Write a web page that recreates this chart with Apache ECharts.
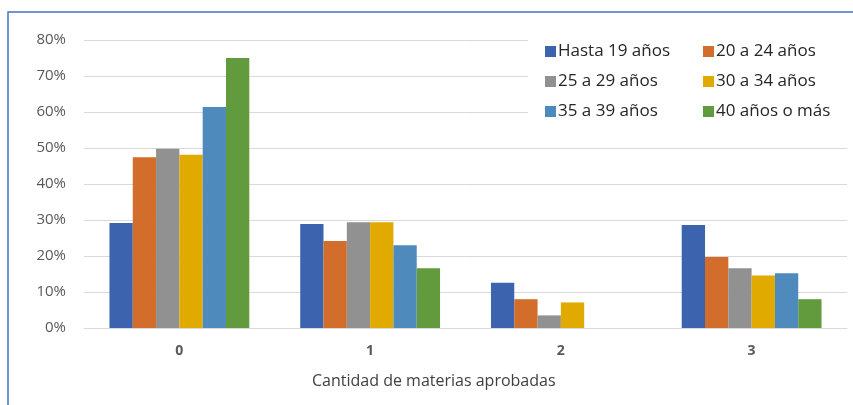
<!DOCTYPE html>
<html style="height: 100%">
<head>
    <meta charset="UTF-8">
    <script src="https://cdn.jsdelivr.net/npm/echarts@6/dist/echarts.min.js"></script>
</head>
<body style="height: 100%; margin: 0; background: #fff">
    <div id="main" style="width: 853px; height: 405px;"></div>
    <script type="text/javascript">
        // datos del gráfico
        var categorias = ['0', '1', '2', '3'];
        var grupos = ['Hasta 19 años', '20 a 24 años', '25 a 29 años', '30 a 34 años', '35 a 39 años', '40 años o más'];
        var colores = ['#3c64ae', '#d26d2b', '#919191', '#e0aa00', '#4f8abd', '#629a3e'];

        var hasta19 = [29.2, 28.9, 12.6, 28.6];
        var de20a24 = [47.4, 24.2, 8.0, 19.7];
        var de25a29 = [49.8, 29.4, 3.5, 16.6];
        var de30a34 = [48.1, 29.4, 7.1, 14.6];
        var de35a39 = [61.4, 23.0, 0, 15.2];
        var mas40 = [75.0, 16.6, 0, 8.0];

        var valores = [hasta19, de20a24, de25a29, de30a34, de35a39, mas40];

        var myChart = echarts.init(document.getElementById('main'));

        var fuente = 'Open Sans';

        var series = grupos.map(function (g, i) {
            return {
                name: g,
                type: 'bar',
                data: valores[i],
                barGap: 0,
                barCategoryGap: '26.7%',
                itemStyle: { color: colores[i] },
                z: 3
            };
        });

        var legendaBase = {
            orient: 'vertical',
            icon: 'rect',
            itemWidth: 11,
            itemHeight: 11,
            itemGap: 13,
            top: 38,
            z: 6,
            textStyle: { fontFamily: fuente, fontSize: 17, color: '#262626', padding: [0, 0, 0, -3] },
            selectedMode: false
        };

        var option = {
            animation: false,
            textStyle: { fontFamily: fuente },
            grid: { left: 84, top: 40, width: 763, height: 288 },
            legend: [
                Object.assign({}, legendaBase, { left: 540, data: [grupos[0], grupos[2], grupos[4]] }),
                Object.assign({}, legendaBase, { left: 698, data: [grupos[1], grupos[3], grupos[5]] })
            ],
            xAxis: {
                type: 'category',
                data: categorias,
                axisTick: { show: false },
                axisLine: { lineStyle: { color: '#d9d9d9', width: 1 } },
                axisLabel: { fontFamily: fuente, fontSize: 14, fontWeight: 'bold', color: '#595959', margin: 16 }
            },
            yAxis: {
                type: 'value',
                min: 0,
                max: 80,
                interval: 10,
                axisLabel: { formatter: '{value}%', fontFamily: fuente, fontSize: 15, color: '#595959', margin: 18 },
                splitLine: { lineStyle: { color: '#d9d9d9', width: 1 } },
                axisLine: { show: false },
                axisTick: { show: false }
            },
            graphic: [
                {
                    type: 'rect',
                    shape: { x: 8, y: 12, width: 860, height: 420 },
                    style: { fill: 'none', stroke: '#4472c4', lineWidth: 1.5 },
                    z: 10
                },
                {
                    type: 'rect',
                    shape: { x: 528, y: 34, width: 322, height: 90 },
                    style: { fill: '#fff' },
                    z: 1
                },
                {
                    type: 'text',
                    left: 312,
                    top: 373,
                    style: { text: 'Cantidad de materias aprobadas', font: '16px "Open Sans"', fill: '#404040' },
                    z: 10
                }
            ],
            series: series
        };

        myChart.setOption(option);
    </script>
</body>
</html>
